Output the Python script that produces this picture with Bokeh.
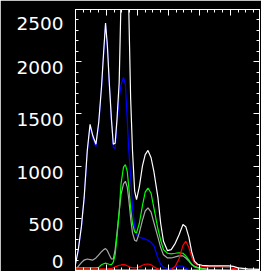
from bokeh.plotting import figure
from bokeh.models import LinearAxis, SingleIntervalTicker, FixedTicker, Range1d
from bokeh.embed import file_html
from bokeh.resources import INLINE

# channel positions shared by all series
x = [0, 0.9, 1.9, 2.8, 3.8, 4.7, 5.6, 6.6, 7.5, 8.4, 9.1, 9.7, 10.3, 10.9, 11.6, 12.2,
     12.8, 13.4, 14.1, 14.7, 15.5, 16.1, 16.7, 17.2, 17.8, 18.4, 19.1, 19.7, 20.6, 21.6,
     22.5, 23.4, 24.4, 25.3, 26.6, 27.5, 28.4, 29.7, 30.9, 32.2, 33.4, 34.7, 35.6, 36.6,
     37.5, 38.4, 39.4, 40.9, 43.1, 46.3, 49.4, 50.9, 52.5, 55.6, 59.4]

total = [60, 200, 420, 700, 1150, 1400, 1290, 1210, 1420, 1760, 2100, 2370, 2150, 1800, 1450, 1210,
         1220, 1450, 1800, 2600, 3000, 3100, 2900, 2500, 1650, 1150, 760, 680, 800, 1000,
         1110, 1150, 1080, 950, 700, 450, 280, 190, 200, 260, 340, 440, 420, 320,
         180, 90, 60, 50, 45, 45, 45, 40, 25, 15, 10]

blue = [70, 195, 410, 690, 1130, 1375, 1265, 1185, 1400, 1740, 2080, 2350, 2130, 1780, 1430, 1180,
        1170, 1400, 1650, 1780, 1850, 1780, 1450, 1150, 900, 600, 420, 340, 320, 310,
        300, 290, 270, 240, 120, 60, 30, 20, 20, 30, 45, 40, 20, 10,
        5, 0, 0, 0, 0, 0, 0, 0, 0, 0, 0]

green = [25, 25, 25, 25, 25, 25, 25, 25, 30, 55, 65, 70, 65, 60, 55, 80,
         150, 330, 560, 830, 990, 1015, 950, 800, 600, 450, 370, 360, 450, 620,
         750, 790, 740, 600, 400, 290, 200, 165, 160, 165, 170, 165, 140, 100,
         55, 35, 25, 15, 5, 0, 0, 0, 0, 0, 0]

gray = [0, 40, 75, 100, 110, 105, 100, 120, 150, 180, 200, 210, 190, 150, 110, 110,
        200, 360, 560, 730, 830, 855, 800, 680, 500, 360, 290, 280, 360, 480,
        570, 600, 560, 460, 320, 220, 150, 120, 120, 130, 140, 140, 120, 90,
        60, 40, 30, 20, 10, 5, 0, 0, 0, 0, 0]

red = [15, 15, 15, 15, 15, 15, 15, 15, 15, 15, 15, 15, 15, 18, 20, 25,
       35, 42, 50, 53, 56, 54, 45, 38, 30, 27, 25, 28, 35, 50,
       60, 62, 55, 35, 15, 8, 5, 5, 10, 40, 110, 240, 280, 220,
       130, 70, 50, 40, 35, 35, 30, 20, 10, 5, 0]

yellow = [5, 5, 5, 5, 5, 5, 5, 5, 5, 5, 5, 5, 5, 5, 5, 5,
          5, 5, 5, 5, 5, 5, 5, 5, 5, 5, 5, 5, 5, 5,
          5, 5, 5, 5, 5, 5, 5, 5, 5, 5, 5, 5, 5, 5,
          5, 5, 5, 5, 5, 5, 5, 5, 5, 5, 5]

y_ticks = [0, 500, 1000, 1500, 2000, 2500]
y_tick_labels = ["0", "500", "1000", "1500", "2000", "2500"]

# styling: vertical nudge of each tick label, in pixels (positive = up)
label_nudge_px = [9, -6, -6, -6, -6, -14]

Y0, Y1 = 0, 2500
W, H = 261, 271
BL, BR, BT, BB = 75, 2, 9, 1
FRAME_H = H - BT - BB

p = figure(width=W, height=H, output_backend="svg", toolbar_location=None,
           x_range=Range1d(0, 59.4), y_range=Range1d(Y0, Y1),
           x_axis_location=None, y_axis_location=None,
           background_fill_color="black", border_fill_color="black",
           outline_line_color="white",
           min_border_left=BL, min_border_right=BR, min_border_top=BT, min_border_bottom=BB)
for g in p.grid:
    g.visible = False


def tick_axis(interval, minor):
    return LinearAxis(ticker=SingleIntervalTicker(interval=interval, num_minor_ticks=minor),
                      axis_line_color="white", axis_line_width=1,
                      major_tick_line_color="white", minor_tick_line_color="white",
                      major_tick_in=6, major_tick_out=0, minor_tick_in=3, minor_tick_out=0,
                      major_label_text_font_size="0px", major_label_text_color=None,
                      major_label_standoff=0)


p.add_layout(tick_axis(500, 5), "left")

# label-only axis, labels nudged like the reference
units_per_px = (Y1 - Y0) / FRAME_H
label_pos = [round(t + n * units_per_px) for t, n in zip(y_ticks, label_nudge_px)]
lab_axis = LinearAxis(ticker=FixedTicker(ticks=label_pos, minor_ticks=[]),
                      major_label_overrides={pos: txt for pos, txt in zip(label_pos, y_tick_labels)},
                      axis_line_color=None, major_tick_line_color=None, minor_tick_line_color=None,
                      major_tick_in=0, major_tick_out=0,
                      major_label_standoff=12, major_label_text_color="white",
                      major_label_text_font="DejaVu Sans", major_label_text_font_size="18.5px")
p.add_layout(lab_axis, "left")

p.add_layout(tick_axis(500, 5), "right")
p.add_layout(tick_axis(10, 4), "above")
p.add_layout(tick_axis(10, 4), "below")

lw = 1.2
p.line(x, yellow, line_color="#FFFF00", line_width=lw)
p.line(x, blue, line_color="#0000FF", line_width=lw)
p.line(x, gray, line_color="#A8A8A8", line_width=lw)
p.line(x, green, line_color="#00FF00", line_width=lw)
p.line(x, red, line_color="#FF0000", line_width=lw)
p.line(x, total, line_color="#FFFFFF", line_width=lw)

open("out.html", "w").write(file_html(p, INLINE))
